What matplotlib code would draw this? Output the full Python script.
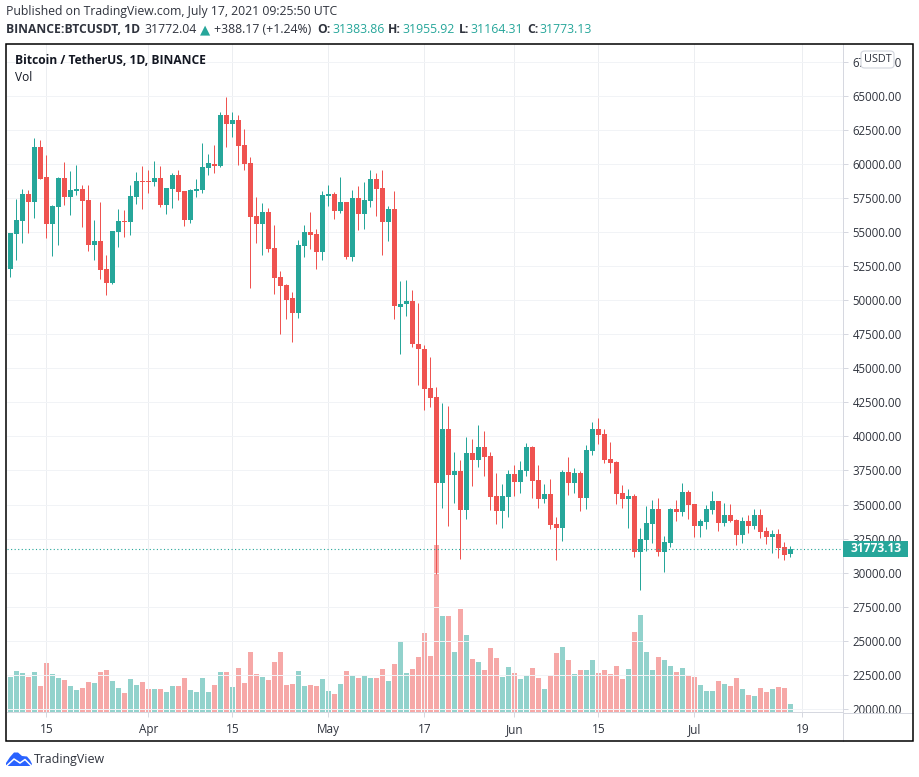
import matplotlib
matplotlib.use("Agg")
import matplotlib.pyplot as plt
import numpy as np
import pandas as pd
from matplotlib.patches import FancyBboxPatch, Polygon, Rectangle

plt.rcParams["font.family"] = ["Open Sans", "DejaVu Sans"]

GREEN = "#26a69a"
RED = "#ef5350"
TEXT = "#2f333d"
GRID = "#f1f3f6"
AXIS = "#d6d8e0"

start_date = "2021-03-09"

opens = [
    52300, 54860, 55810, 57770, 57210, 61230, 59000, 55600, 56840, 58950,
    57580, 58020, 58140, 57330, 54020, 54320, 52260, 51230, 54980, 55790,
    55720, 57550, 58730, 58730, 58650, 58950, 56960, 58140, 59170, 57990,
    55860, 57990, 58070, 59680, 59980, 59830, 63580, 62920, 63210, 61370,
    60050, 56160, 55570, 56450, 53800, 51730, 51140, 50120, 49020, 53990,
    55020, 54870, 53560, 57650, 57800, 56560, 57220, 53190, 57510, 56340,
    57290, 58900, 58240, 55750, 56700, 49530, 49680, 49900, 46800, 46430,
    43570, 42910, 36600, 40560, 37190, 37480, 34620, 38800, 38290, 39240,
    38580, 35650, 34550, 35570, 37260, 36670, 37480, 39240, 36820, 35430,
    35790, 33590, 33300, 37410, 36600, 37330, 35500, 38950, 40560, 40200,
    38360, 38140, 35870, 35430, 35640, 31530, 32410, 33580, 34680, 31530,
    32190, 34680, 34460, 35930, 35050, 33440, 33730, 34610, 35270, 33650,
    34240, 33880, 32770, 33800, 33440, 34240, 33070, 32630, 32850, 31890,
    31383.86,
]
closes = [
    54900, 55860, 57770, 57210, 61230, 58875, 55600, 56890, 58950, 57580,
    58070, 58140, 57280, 54020, 54320, 52190, 51230, 55050, 55790, 55720,
    57630, 58730, 58650, 58680, 58950, 56960, 58210, 59170, 57920, 55860,
    58070, 58140, 59760, 60050, 59830, 63580, 62920, 63210, 61300, 59980,
    56080, 55570, 56450, 53730, 51600, 51070, 50040, 49020, 54070, 55020,
    54800, 53560, 57730, 57800, 56560, 57220, 53190, 57510, 56340, 57360,
    58900, 58170, 55750, 56700, 49600, 49750, 49900, 46750, 46380, 43500,
    42840, 36600, 40560, 37190, 37480, 34620, 38800, 38290, 39240, 38510,
    35570, 34550, 35650, 37260, 36670, 37560, 39240, 36750, 35430, 35790,
    33520, 33300, 37410, 36600, 37330, 35500, 39020, 40560, 40120, 38290,
    38070, 35790, 35430, 35650, 31530, 32480, 33650, 34680, 31530, 32260,
    34680, 34460, 35930, 34980, 33440, 33800, 34680, 35270, 33650, 34240,
    33800, 32770, 33800, 33440, 34240, 33000, 32630, 32850, 31820, 31310,
    31773.13,
]
highs = [
    54900, 57400, 58140, 58100, 61890, 61740, 60640, 56960, 59020, 60130,
    59460, 59900, 58480, 58430, 55860, 57180, 53290, 55060, 56670, 56600,
    58430, 59390, 59830, 59540, 60200, 59830, 58210, 59320, 59540, 58000,
    58140, 58880, 61520, 60710, 61370, 63800, 64900, 63800, 63580, 62550,
    60490, 57550, 57110, 56740, 55490, 52170, 51210, 50630, 54430, 55530,
    56480, 55240, 58020, 58460, 57950, 59050, 57220, 58090, 58390, 58680,
    59560, 59340, 59560, 56920, 58020, 51430, 51510, 50770, 49800, 46720,
    45840, 43640, 42470, 42250, 38880, 38290, 39980, 39830, 40860, 40420,
    38880, 37330, 36530, 37560, 37920, 38210, 39530, 39310, 37920, 36530,
    36890, 34110, 37560, 38510, 37700, 37480, 39390, 41080, 41370, 40560,
    39610, 38210, 36450, 36150, 35780, 33290, 34900, 35340, 35490, 32700,
    34760, 35340, 36590, 36080, 35050, 33950, 34980, 36000, 35270, 35120,
    35050, 33950, 34100, 34240, 34680, 34680, 33360, 33140, 33220, 32260,
    31955.92,
]
lows = [
    51720, 52920, 54170, 54930, 56010, 58875, 54540, 53220, 54020, 56960,
    56230, 57700, 55350, 53580, 52920, 51530, 50350, 51160, 53880, 54610,
    54760, 57040, 56670, 57850, 58360, 56820, 56300, 56740, 57330, 55420,
    55640, 57550, 57850, 59170, 59320, 59760, 61230, 61960, 59900, 59540,
    50860, 54170, 53290, 53510, 50420, 47480, 48650, 46900, 48720, 53190,
    53780, 52310, 52970, 56920, 55970, 56410, 53040, 52900, 55170, 55240,
    56850, 56190, 53340, 54360, 48580, 46020, 48800, 46530, 43790, 41960,
    42180, 29930, 34770, 33450, 35130, 31030, 33960, 36380, 37780, 37120,
    34620, 33590, 33300, 34110, 35650, 35870, 37120, 35500, 34770, 35130,
    33230, 30950, 32350, 35720, 35870, 34550, 34690, 38660, 39460, 38070,
    37330, 35060, 34770, 33290, 31160, 28740, 31600, 32190, 31230, 30060,
    31900, 33800, 34170, 33950, 32630, 32630, 33220, 34320, 33070, 33440,
    33730, 32040, 32190, 32920, 33220, 32560, 32110, 31450, 31090, 30940,
    31164.31,
]
# thousands of BTC
volumes = [
    73.5, 86.1, 81.9, 73.5, 84, 54.6, 102.9, 79.8, 71.4, 67.2,
    54.6, 46.2, 50.4, 63, 60.9, 84, 88.2, 65.1, 50.4, 39.9,
    69.3, 56.7, 63, 48.3, 48.3, 48.3, 42, 54.6, 54.6, 71.4,
    46.2, 42, 71.4, 42, 56.7, 84, 84, 52.5, 92.4, 60.9,
    126, 79.8, 73.5, 67.2, 105, 126, 56.7, 58.8, 86.1, 54.6,
    56.7, 54.6, 69.3, 44.1, 37.8, 58.8, 86.1, 77.7, 71.4, 75.6,
    71.4, 71.4, 90.3, 65.1, 100.8,
    147, 81.9, 90.3, 115.5, 165.9, 117.6, 350.7, 201.6, 201.6, 126,
    216.3, 161.7, 111.3, 105, 88.2, 134.4, 113.4, 73.5, 94.5, 81.9,
    69.3, 77.7, 92.4, 71.4, 48.3, 77.7, 123.9, 136.5, 109.2, 79.8,
    88.2, 88.2, 109.2, 81.9, 88.2, 79.8, 96.6, 69.3, 90.3, 168,
    203.7, 126, 88.2, 115.5, 109.2, 96.6, 84, 92.4, 77.7, 73.5,
    56.7, 44.1, 44.1, 65.1, 58.8, 54.6, 71.4, 48.3, 35.7, 33.6,
    50.4, 42, 48.3, 52.5, 50.4, 16.8,
]

price_ticks = list(range(20000, 67501, 2500))
date_ticks = ["2021-03-15", "2021-04-01", "2021-04-15", "2021-05-01", "2021-05-17",
              "2021-06-01", "2021-06-15", "2021-07-01", "2021-07-19"]
date_labels = ["15", "Apr", "15", "May", "17", "Jun", "15", "Jul", "19"]
last_price = 31773.13

W, H = 920, 777


def fx(x):
    return x / W


def fy(y):
    return 1 - y / H


def rect(x0, y0, x1, y1):
    return [fx(x0), fy(y1), (x1 - x0) / W, (y1 - y0) / H]


def label(x, y, s, **kw):
    kw.setdefault("color", TEXT)
    kw.setdefault("fontsize", 8.85)
    kw.setdefault("va", "center")
    fig.text(fx(x), fy(y), s, **kw)


fig = plt.figure(figsize=(W / 100, H / 100), dpi=100, facecolor="white")

# pane spans 7..843 px across, 44..712 px down
ax_vol = fig.add_axes(rect(7, 44, 843, 712), zorder=1)
ax = fig.add_axes(rect(7, 44, 843, 712), zorder=2)
ax.patch.set_visible(False)

o, h, l, c = map(np.array, (opens, highs, lows, closes))
vol = np.array(volumes)
xs = np.arange(len(o))
up = c >= o
colors = np.where(up, GREEN, RED)
first_day = pd.Timestamp(start_date)
tick_pos = [(pd.Timestamp(d) - first_day).days for d in date_ticks]

# day 0 sits at px 10.5 so 5 px bodies land on whole pixels
xlim = (-3.5 / 6, 832.5 / 6)
ax.set_xlim(xlim)
ax_vol.set_xlim(xlim)
ax.set_ylim(19776, 68794)
ax_vol.set_ylim(0, vol.max() * 4)

ax_vol.bar(xs, vol, width=5 / 6, color=colors, alpha=0.5, linewidth=0)
ax_vol.axis("off")

ax.vlines(xs, l, h, colors=colors, linewidth=0.72, zorder=3)
ax.bar(xs, np.abs(c - o), bottom=np.minimum(o, c), width=5 / 6, color=colors,
       linewidth=0, zorder=4)
ax.axhline(last_price, color=GREEN, linestyle=(0, (1, 2.2)), linewidth=0.8, zorder=5)

ax.grid(True, color=GRID, linewidth=0.72, zorder=0)
ax.xaxis.grid(True, color="#eceef1", linewidth=0.72)
ax.set_axisbelow(True)
ax.yaxis.tick_right()
ax.set_yticks(price_ticks)
ax.set_yticklabels([f"{p:.2f}" for p in price_ticks])
ax.set_xticks(tick_pos)
ax.set_xticklabels(date_labels)
ax.tick_params(axis="y", length=3.6, width=0.72, color=AXIS, labelcolor=TEXT,
               labelsize=8.3, pad=3.2)
ax.tick_params(axis="x", length=3.6, width=0.72, color=AXIS, labelcolor=TEXT,
               labelsize=8.5, pad=4.5)
for name, spine in ax.spines.items():
    spine.set_visible(name in ("right", "bottom"))
    spine.set_color(AXIS)
    spine.set_linewidth(0.72)

# hides the lower half of the clipped 20000.00 label, as in the screenshot
fig.add_artist(Rectangle((fx(845), fy(740)), 66 / W, 27.5 / H, transform=fig.transFigure,
                         facecolor="white", edgecolor="none", zorder=5))
fig.add_artist(plt.Line2D([fx(843), fx(913)], [fy(712.5)] * 2, color=AXIS, linewidth=0.72, zorder=6))
fig.add_artist(plt.Line2D([fx(843.3)] * 2, [fy(712), fy(741)], color=AXIS, linewidth=0.72, zorder=6))

# outer frame
fig.add_artist(Rectangle((fx(6.5), fy(740.5)), 906.5 / W, 697 / H, transform=fig.transFigure,
                         facecolor="none", edgecolor="black", linewidth=1.1, zorder=7))

# last price tag
fig.add_artist(Rectangle((fx(843), fy(557)), 65 / W, 16 / H, transform=fig.transFigure,
                         facecolor=GREEN, edgecolor="none", zorder=7))
fig.text(fx(902), fy(549), "31773.13", color="white", fontsize=8.6, fontweight="bold",
         ha="right", va="center", zorder=8)

# currency button over the 67500 label
fig.add_artist(FancyBboxPatch((fx(861), fy(68)), 33 / W, 17 / H, transform=fig.transFigure,
                              boxstyle="round,pad=0,rounding_size=0.004",
                              facecolor="white", edgecolor="#d1d4dc", linewidth=0.8, zorder=7))
fig.text(fx(877.5), fy(59), "USDT", color=TEXT, fontsize=7.8, ha="center", va="center", zorder=8)

label(15, 60.5, "Bitcoin / TetherUS, 1D, BINANCE", fontweight="bold", color="#131722", fontsize=8.65)
label(15, 77.5, "Vol", color="#131722", fontsize=8.6)

label(6, 12, "Published on TradingView.com, July 17, 2021 09:25:50 UTC")
label(6, 29.5, "BINANCE:BTCUSDT, 1D", fontweight="bold", fontsize=8.75)
label(144, 29.5, "31772.04")
label(199.5, 29.5, "▲", color=GREEN, fontsize=9.5, family="DejaVu Sans")
label(214, 29.5, "+388.17 (+1.24%)")
for x0, name, x1, val in [(317, "O:", 332, "31383.86"), (388, "H:", 402, "31955.92"),
                          (459, "L:", 470, "31164.31"), (527, "C:", 539, "31773.13")]:
    label(x0, 29.5, name, fontweight="bold", fontsize=8.75)
    label(x1, 29.5, val, color=GREEN)

# logo
logo = [(6, 763), (10, 757), (14, 752.5), (18, 752.5), (22, 756), (27, 756.5), (30, 760),
        (32, 764), (31, 766), (8, 766), (6, 765)]
fig.add_artist(Polygon([(fx(a), fy(b)) for a, b in logo], transform=fig.transFigure,
                       facecolor="#2962ff", edgecolor="none"))
fig.add_artist(plt.Line2D([fx(a) for a in (7, 14, 20, 25, 31)],
                          [fy(b) for b in (765.5, 759, 763, 759.5, 765.5)],
                          color="white", linewidth=1.1))
label(34, 759.5, "TradingView", fontsize=8.9)

fig.savefig("out.png", dpi=100, facecolor="white")
